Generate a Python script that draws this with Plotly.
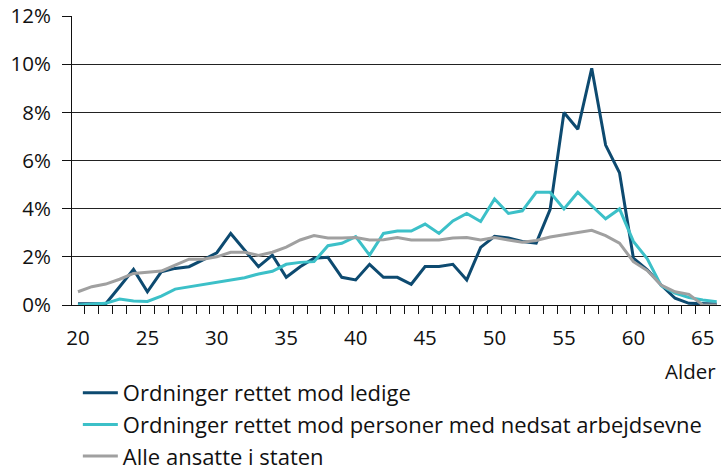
import plotly.graph_objects as go

ages = list(range(20, 67))

ledige = [0.05, 0.05, 0.05, 0.76, 1.48, 0.55, 1.38, 1.52, 1.59, 1.87,
          2.17, 2.97, 2.28, 1.59, 2.07, 1.15, 1.59, 1.94, 1.98, 1.15,
          1.04, 1.69, 1.15, 1.15, 0.86, 1.60, 1.60, 1.69, 1.04, 2.39,
          2.85, 2.78, 2.64, 2.57, 3.96, 7.99, 7.30, 9.83, 6.64, 5.49,
          1.95, 1.46, 0.83, 0.28, 0.07, 0.04, 0.04]

nedsat = [0.00, 0.04, 0.07, 0.25, 0.17, 0.15, 0.37, 0.66, 0.76, 0.86,
          0.94, 1.04, 1.13, 1.29, 1.40, 1.69, 1.77, 1.80, 2.46, 2.56,
          2.84, 2.07, 2.97, 3.07, 3.07, 3.36, 2.97, 3.49, 3.80, 3.47,
          4.40, 3.80, 3.91, 4.68, 4.68, 3.99, 4.68, 4.12, 3.58, 3.99,
          2.64, 1.92, 0.80, 0.49, 0.31, 0.21, 0.14]

alle = [0.55, 0.76, 0.87, 1.07, 1.31, 1.37, 1.41, 1.66, 1.90, 1.90,
        2.00, 2.19, 2.19, 2.06, 2.19, 2.40, 2.70, 2.88, 2.78, 2.78,
        2.80, 2.70, 2.71, 2.80, 2.70, 2.70, 2.70, 2.78, 2.80, 2.70,
        2.80, 2.70, 2.61, 2.68, 2.82, 2.92, 3.00, 3.10, 2.88, 2.57,
        1.80, 1.43, 0.83, 0.55, 0.44, 0.00, 0.00]

series_names = ["Ordninger rettet mod ledige",
                "Ordninger rettet mod personer med nedsat arbejdsevne",
                "Alle ansatte i staten"]
series_values = [ledige, nedsat, alle]
series_colors = ["#0d4a70", "#3cc0c8", "#a0a0a0"]

x_tick_vals = list(range(20, 66, 5))
y_tick_vals = list(range(0, 13, 2))
y_tick_text = [f"{v}%" for v in y_tick_vals]

FONT = "Open Sans"
TXT = "#111111"

fig = go.Figure()
for i, (name, vals, col) in enumerate(zip(series_names, series_values, series_colors)):
    fig.add_trace(go.Scatter(
        x=ages, y=vals, name=name, mode="lines",
        line=dict(color=col, width=3),
        legendgroup=f"g{i}",
    ))

fig.update_layout(
    width=721, height=467,
    margin=dict(l=72, r=0, t=16, b=162, autoexpand=False),
    paper_bgcolor="white", plot_bgcolor="white",
    font=dict(family=FONT, size=20, color=TXT),
    showlegend=True,
    legend=dict(
        orientation="v", x=0.009, xanchor="left", y=-0.232, yanchor="top",
        xref="paper", yref="paper",
        traceorder="grouped", tracegroupgap=0,
        font=dict(family=FONT, size=22, color=TXT),
        bgcolor="rgba(0,0,0,0)", itemwidth=35,
    ),
    xaxis=dict(
        range=[19.57, 66.31],
        tickmode="array", tickvals=x_tick_vals,
        ticks="outside", ticklen=8, tickcolor="rgba(0,0,0,0)",
        showline=True, linecolor=TXT, linewidth=1,
        showgrid=False, zeroline=False,
        tickfont=dict(family=FONT, size=20.5, color=TXT),
        minor=dict(tick0=19.5, dtick=1, ticks="outside", ticklen=8,
                   tickcolor=TXT, tickwidth=1, showgrid=False),
        ticklabelstandoff=6,
    ),
    yaxis=dict(
        range=[0, 12],
        tickmode="array", tickvals=y_tick_vals, ticktext=y_tick_text,
        ticks="outside", ticklen=9, tickcolor=TXT,
        showline=True, linecolor=TXT, linewidth=1,
        showgrid=True, gridcolor="#222222", gridwidth=1,
        zeroline=False, ticklabelstandoff=7,
        tickfont=dict(family=FONT, size=20.5, color=TXT),
    ),
    annotations=[dict(
        text="Alder", x=0.996, xref="paper", xanchor="right",
        y=-0.228, yref="paper", yanchor="middle", showarrow=False,
        font=dict(family=FONT, size=20.5, color=TXT),
    )],
)

fig.write_html("out.html", config={"displayModeBar": False},
               post_script="document.body.style.margin='0';")
